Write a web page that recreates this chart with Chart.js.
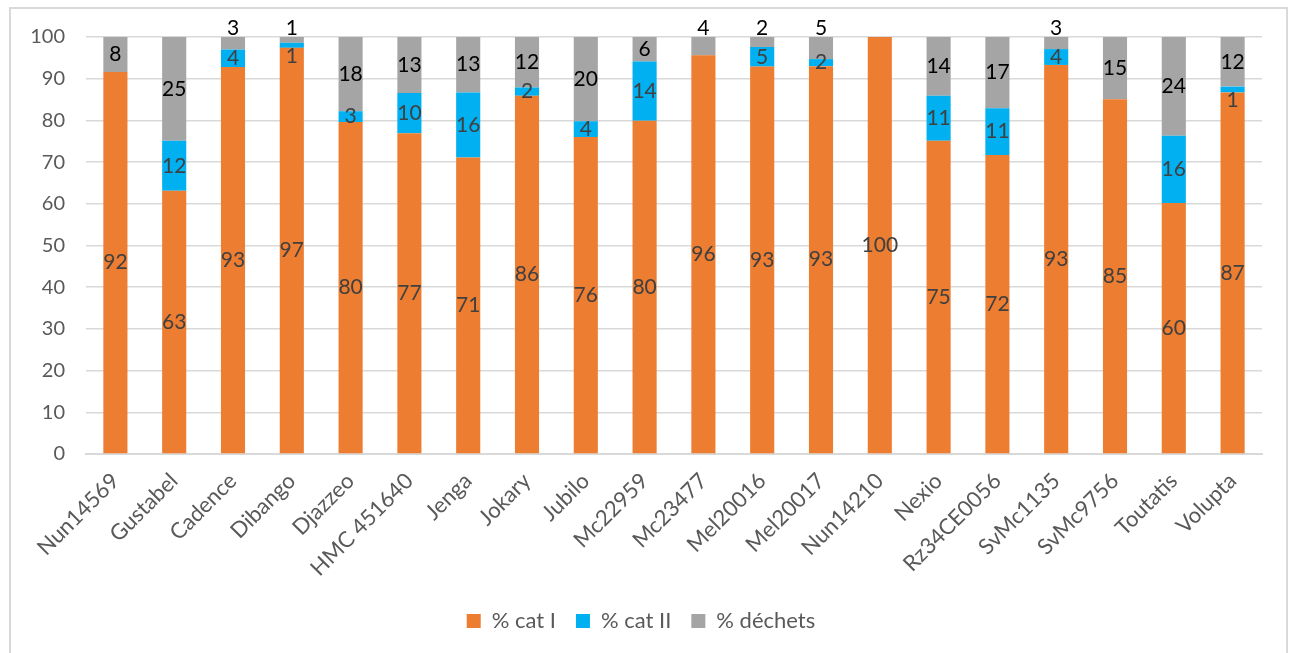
<!DOCTYPE html>
<html>
<head>
<meta charset="utf-8">
<script src="https://cdn.jsdelivr.net/npm/chart.js@4.4.1/dist/chart.umd.min.js"></script>
<style>
  html, body { margin: 0; padding: 0; background: #fff; }
  #wrap { position: relative; width: 1295px; height: 653px; overflow: hidden; }
  #cadre { position: absolute; left: 9px; top: 7px; width: 1279px; height: 700px;
           border: 2px solid #d9d9d9; box-sizing: border-box; pointer-events: none; }
  canvas { position: absolute; left: 0; top: 0; }
</style>
</head>
<body>
<div id="wrap">
  <canvas id="graf" width="1295" height="653"></canvas>
  <div id="cadre"></div>
</div>
<script>
// Données
const varietes = ["Nun14569", "Gustabel", "Cadence", "Dibango", "Djazzeo", "HMC 451640", "Jenga", "Jokary",
  "Jubilo", "Mc22959", "Mc23477", "Mel20016", "Mel20017", "Nun14210", "Nexio", "Rz34CE0056",
  "SvMc1135", "SvMc9756", "Toutatis", "Volupta"];
const catI    = [91.6, 63.1, 92.8, 97.4, 79.6, 76.9, 71.1, 85.9, 76.0, 79.9, 95.6, 92.9, 93.0, 100, 75.1, 71.7, 93.3, 85.1, 60.2, 86.7];
const catII   = [0, 12.0, 4.2, 1.2, 2.6, 9.7, 15.6, 2.0, 3.8, 14.2, 0, 4.7, 1.7, 0, 10.8, 11.2, 3.8, 0, 16.1, 1.4];
const dechets = [8.4, 24.9, 3.0, 1.4, 17.8, 13.4, 13.3, 12.1, 20.2, 5.9, 4.4, 2.4, 5.3, 0, 14.1, 17.1, 2.9, 14.9, 23.7, 11.9];
const graduations = [0, 10, 20, 30, 40, 50, 60, 70, 80, 90, 100];

const police = "Lato, 'Open Sans', sans-serif";
const gris = "#595959";

// =============================
// Étiquettes de valeurs au centre des segments
// =============================
const etiquettes = {
  id: "etiquettes",
  afterDatasetsDraw(chart) {
    const ctx = chart.ctx;
    ctx.save();
    ctx.font = "21px " + police;
    ctx.textAlign = "center";
    ctx.textBaseline = "middle";
    chart.data.datasets.forEach((ds, i) => {
      const meta = chart.getDatasetMeta(i);
      meta.data.forEach((bar, j) => {
        const v = ds.data[j];
        if (!v) return;
        const p = bar.getProps(["x", "y", "base"], true);
        const haut = Math.abs(p.base - p.y);
        let y = (p.y + p.base) / 2;
        if (i === 2 && haut < 24) y = p.y - 9;        // petit segment en haut : au-dessus
        if (i === 1 && haut < 6.5) y = p.base + 8;    // très petit segment : en dessous
        ctx.fillStyle = i === 2 ? "#000" : "#404040";
        ctx.fillText(String(Math.round(v)), p.x, y);
      });
    });
    ctx.restore();
  }
};

new Chart(document.getElementById("graf"), {
  type: "bar",
  data: {
    labels: varietes,
    datasets: [
      { label: "% cat I", data: catI, backgroundColor: "#ED7D31" },
      { label: "% cat II", data: catII, backgroundColor: "#00B0F0" },
      { label: "% déchets", data: dechets, backgroundColor: "#A5A5A5" }
    ]
  },
  options: {
    responsive: false,
    animation: false,
    devicePixelRatio: 1,
    layout: { padding: { left: 20, right: 33, top: 37, bottom: 13 } },
    datasets: { bar: { categoryPercentage: 1, barPercentage: 0.41, borderWidth: 0 } },
    plugins: {
      tooltip: { enabled: false },
      legend: {
        position: "bottom",
        maxHeight: 50,
        labels: {
          color: gris,
          font: { family: police, size: 22 },
          boxWidth: 14,
          boxHeight: 14,
          padding: 20
        }
      }
    },
    scales: {
      x: {
        stacked: true,
        grid: { display: false, drawTicks: false },
        border: { color: "#d9d9d9", width: 2 },
        ticks: {
          color: gris,
          font: { family: police, size: 22 },
          minRotation: 45,
          maxRotation: 45,
          autoSkip: false,
          padding: 14
        },
        afterFit: s => { s.height = 136; }
      },
      y: {
        stacked: true,
        min: 0,
        max: 100,
        afterBuildTicks: s => { s.ticks = graduations.map(v => ({ value: v })); },
        grid: { color: "#d9d9d9", lineWidth: 1.5, drawTicks: false },
        border: { display: false },
        ticks: { color: gris, font: { family: police, size: 20 }, padding: 21 },
        afterFit: s => { s.width = 66; }
      }
    }
  },
  plugins: [etiquettes]
});
</script>
</body>
</html>
